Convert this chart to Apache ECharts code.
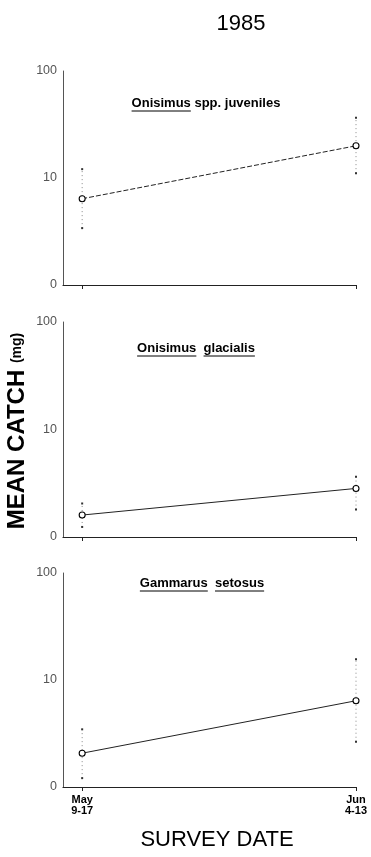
<!DOCTYPE html>
<html><head><meta charset="utf-8">
<script src="https://cdn.jsdelivr.net/npm/echarts@6/dist/echarts.min.js"></script>
<style>html,body{margin:0;padding:0;background:#fff}#c{width:371px;height:857px}</style>
</head><body><div id="c"></div>
<script>
// ---- data (mean catch, mg; error bar low/high) ----
const dates = ['May\n9-17', 'Jun\n4-13'];
const datePos = [0, 1];
const yTickPos = [0, 1, 2];            // decades on the log(x+1) scale
const yTickLabels = ['0', '10', '100'];

const p1Mean = [5.4, 19.0];
const p1Lo   = [2.4, 10.1];
const p1Hi   = [11.1, 35.6];

const p2Mean = [0.60, 1.83];
const p2Lo   = [0.24, 0.80];
const p2Hi   = [1.05, 2.64];

const p3Mean = [1.07, 5.4];
const p3Lo   = [0.21, 1.65];
const p3Hi   = [2.46, 14.6];

const panelTitles = [
  [['Onisimus', true], [' spp. juveniles', false]],
  [['Onisimus', true], ['  ', false], ['glacialis', true]],
  [['Gammarus', true], ['  ', false], ['setosus', true]]
];

// ---- helpers ----
const tr = v => Math.log10(v + 1);
const FONT = "'Liberation Sans', Arial, Helvetica, sans-serif";
const ctx = document.createElement('canvas').getContext('2d');
function tw(t, font) { ctx.font = font; return ctx.measureText(t).width; }

const panels = [
  {mean: p1Mean, lo: p1Lo, hi: p1Hi, top: 71, height: 214, dash: [5, 2], tcx: 206, tcy: 103},
  {mean: p2Mean, lo: p2Lo, hi: p2Hi, top: 322, height: 215, dash: null, tcx: 196, tcy: 348},
  {mean: p3Mean, lo: p3Lo, hi: p3Hi, top: 573, height: 214, dash: null, tcx: 202, tcy: 583}
];

const grid = [], xAxis = [], yAxis = [], series = [], graphic = [];

panels.forEach((p, i) => {
  grid.push({left: 63, right: 15, top: p.top, height: p.height});
  const last = i === panels.length - 1;
  xAxis.push({
    type: 'value', gridIndex: i, min: -0.07, max: 1,
    axisLine: {show: true, onZero: false, lineStyle: {color: '#222', width: 1.2}},
    axisTick: {show: true, customValues: datePos, length: 4, lineStyle: {color: '#222'}},
    axisLabel: {
      show: last, customValues: datePos, margin: 7,
      formatter: v => dates[datePos.indexOf(Math.round(v))] || '',
      color: '#000', fontFamily: FONT, fontWeight: 'bold', fontSize: 11, lineHeight: 11
    },
    splitLine: {show: false}
  });
  yAxis.push({
    type: 'value', gridIndex: i, min: 0, max: 2,
    axisLine: {show: true, onZero: false, lineStyle: {color: '#555', width: 1}},
    axisTick: {show: false},
    axisLabel: {
      customValues: yTickPos, margin: 6,
      formatter: v => yTickLabels[yTickPos.indexOf(Math.round(v))] || '',
      color: '#555', fontFamily: FONT, fontSize: 12.5
    },
    splitLine: {show: false}
  });
  // error bars
  series.push({
    type: 'custom', xAxisIndex: i, yAxisIndex: i, clip: false, z: 2,
    data: datePos.map((x, k) => [x, tr(p.lo[k]), tr(p.hi[k])]),
    renderItem: (params, api) => {
      const a = api.coord([api.value(0), api.value(1)]);
      const b = api.coord([api.value(0), api.value(2)]);
      return {type: 'group', children: [
        {type: 'line', shape: {x1: a[0], y1: a[1], x2: b[0], y2: b[1]},
         style: {stroke: '#8a8a8a', lineWidth: 1, lineDash: [1, 3]}},
        {type: 'rect', shape: {x: a[0] - 1, y: a[1] - 1, width: 2, height: 2}, style: {fill: '#333'}},
        {type: 'rect', shape: {x: b[0] - 1, y: b[1] - 1, width: 2, height: 2}, style: {fill: '#333'}}
      ]};
    }
  });
  // means
  series.push({
    type: 'line', xAxisIndex: i, yAxisIndex: i, z: 3,
    data: datePos.map((x, k) => [x, tr(p.mean[k])]),
    symbol: 'circle', symbolSize: 6,
    itemStyle: {color: '#fff', borderColor: '#000', borderWidth: 1.1},
    lineStyle: {color: '#222', width: 1, type: p.dash || 'solid'},
    silent: true, animation: false
  });
  // panel title with underlines
  const f = `bold 13px ${FONT}`;
  const segs = panelTitles[i];
  const total = segs.reduce((s, g) => s + tw(g[0], f), 0);
  let x = p.tcx - total / 2;
  segs.forEach(g => {
    const w = tw(g[0], f);
    graphic.push({type: 'text', x: x, y: p.tcy,
      style: {text: g[0], font: f, fill: '#000', align: 'left', verticalAlign: 'middle'}});
    if (g[1]) {
      graphic.push({type: 'line', shape: {x1: x, y1: p.tcy + 8, x2: x + w, y2: p.tcy + 8},
        style: {stroke: '#000', lineWidth: 1}});
    }
    x += w;
  });
});

graphic.push({type: 'text', x: 241, y: 24,
  style: {text: '1985', font: `500 22px ${FONT}`, fill: '#000', align: 'center', verticalAlign: 'middle'}});
graphic.push({type: 'text', x: 217, y: 840,
  style: {text: 'SURVEY DATE', font: `22px ${FONT}`, fill: '#000', align: 'center', verticalAlign: 'middle'}});
graphic.push({type: 'text', x: 17, y: 431, rotation: Math.PI / 2,
  style: {text: '{a|MEAN CATCH }{b|(mg)}', align: 'center', verticalAlign: 'middle',
    rich: {a: {font: `bold 24px ${FONT}`, fill: '#000'}, b: {font: `bold 14px ${FONT}`, fill: '#000'}}}});

const chart = echarts.init(document.getElementById('c'), null, {renderer: 'canvas'});
chart.setOption({animation: false, grid, xAxis, yAxis, series, graphic});
</script>
</body></html>
